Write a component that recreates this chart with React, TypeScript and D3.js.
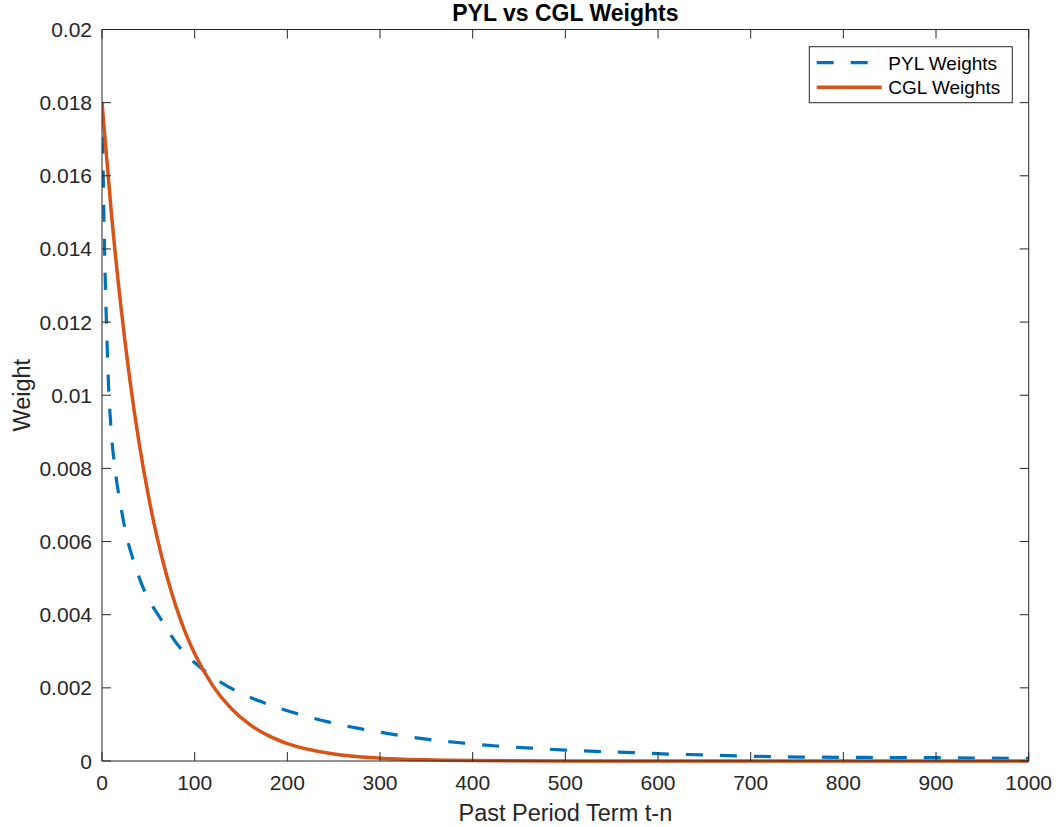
import React from "react";
import * as d3 from "d3";

const pylN = [0, 1, 2, 3, 5, 7, 10, 14, 20, 27, 35, 45, 63, 84, 109, 142, 174, 210, 244, 281, 316, 352, 390, 426, 464, 500, 538, 573, 611, 647, 685, 721, 800, 900, 1000];
const pylW = [0.018, 0.0165, 0.015, 0.0137, 0.0118, 0.0103, 0.009, 0.008, 0.007, 0.0061, 0.0054, 0.0047, 0.0039, 0.0031, 0.0025, 0.00195, 0.0016, 0.0013, 0.00107, 0.00087, 0.00072, 0.00059, 0.00049, 0.00041, 0.00035, 0.0003, 0.00026, 0.00023, 0.00019, 0.00017, 0.00014, 0.00012, 0.0001, 0.00009, 0.00007];

const cglN = [0, 10, 20, 30, 40, 50, 60, 70, 80, 90, 100, 120, 140, 160, 180, 200, 250, 300, 350, 400, 500, 600, 1000];
const cglW = [0.018, 0.01501, 0.01252, 0.01044, 0.0087, 0.00726, 0.00605, 0.00505, 0.00421, 0.00351, 0.00293, 0.00204, 0.00142, 0.000986, 0.000686, 0.000477, 0.000192, 0.0000776, 0.0000313, 0.0000126, 0.0000021, 0.0000003, 0];

const xTicks = [0, 100, 200, 300, 400, 500, 600, 700, 800, 900, 1000];
const yTicks = [0, 0.002, 0.004, 0.006, 0.008, 0.01, 0.012, 0.014, 0.016, 0.018, 0.02];
const seriesNames = ["PYL Weights", "CGL Weights"];

const W = 1056, H = 827;
const L = 102, R = 1028.7, T = 29.5, B = 761;
const axisColor = "#262626";
const font = "Liberation Sans, Arial, Helvetica, sans-serif";

export default function App() {
  const x = d3.scaleLinear().domain([0, 1000]).range([L, R]);
  const y = d3.scaleLinear().domain([0, 0.02]).range([B, T]);
  const line = d3.line<[number, number]>().x(d => x(d[0])).y(d => y(d[1])).curve(d3.curveMonotoneX);
  const pyl = line(pylN.map((n, i) => [n, pylW[i]] as [number, number])) || "";
  const cgl = line(cglN.map((n, i) => [n, cglW[i]] as [number, number])) || "";
  const tick = 9;
  const fmtY = (v: number) => (v === 0 ? "0" : String(+v.toFixed(3)));

  return (
    <svg width={W} height={H} style={{ position: "absolute", left: 0, top: 0, background: "#fff" }} fontFamily={font}>
      <rect x={0} y={0} width={W} height={H} fill="#fff" />
      <defs>
        <clipPath id="plot"><rect x={L} y={T - 2} width={R - L + 2} height={B - T + 4} /></clipPath>
      </defs>
      <g clipPath="url(#plot)">
        <path d={pyl} fill="none" stroke="#0072BD" strokeWidth={3.2} strokeDasharray="17 17" />
        <path d={cgl} fill="none" stroke="#D95319" strokeWidth={3.5} />
      </g>
      <rect x={L} y={T} width={R - L} height={B - T} fill="none" stroke={axisColor} strokeWidth={1} />
      {xTicks.map(t => (
        <g key={"x" + t}>
          <line x1={x(t)} x2={x(t)} y1={B} y2={B - tick} stroke={axisColor} />
          <line x1={x(t)} x2={x(t)} y1={T} y2={T + tick} stroke={axisColor} />
          <text x={x(t)} y={B + 29} textAnchor="middle" fontSize={21} fill={axisColor}>{t}</text>
        </g>
      ))}
      {yTicks.map(t => (
        <g key={"y" + t}>
          <line x1={L} x2={L + tick} y1={y(t)} y2={y(t)} stroke={axisColor} />
          <line x1={R} x2={R - tick} y1={y(t)} y2={y(t)} stroke={axisColor} />
          <text x={L - 10} y={y(t) + 7.5} textAnchor="end" fontSize={21} fill={axisColor}>{fmtY(t)}</text>
        </g>
      ))}
      <text x={(L + R) / 2} y={821} textAnchor="middle" fontSize={23.5} fill={axisColor}>Past Period Term t-n</text>
      <text transform={`translate(30,${(T + B) / 2}) rotate(-90)`} textAnchor="middle" fontSize={23.5} fill={axisColor}>Weight</text>
      <text x={(L + R) / 2} y={21} textAnchor="middle" fontSize={23} fontWeight="bold" fill="#000">PYL vs CGL Weights</text>
      <g>
        <rect x={809.3} y={46.7} width={203} height={56} fill="#fff" stroke={axisColor} strokeWidth={1} />
        <line x1={816.7} x2={881.7} y1={62.7} y2={62.7} stroke="#0072BD" strokeWidth={3.2} strokeDasharray="17 17" />
        <line x1={816.7} x2={881.7} y1={87.3} y2={87.3} stroke="#D95319" strokeWidth={3.5} />
        <text x={888.3} y={69.5} fontSize={19} fill="#000">{seriesNames[0]}</text>
        <text x={888.3} y={94} fontSize={19} fill="#000">{seriesNames[1]}</text>
      </g>
    </svg>
  );
}
